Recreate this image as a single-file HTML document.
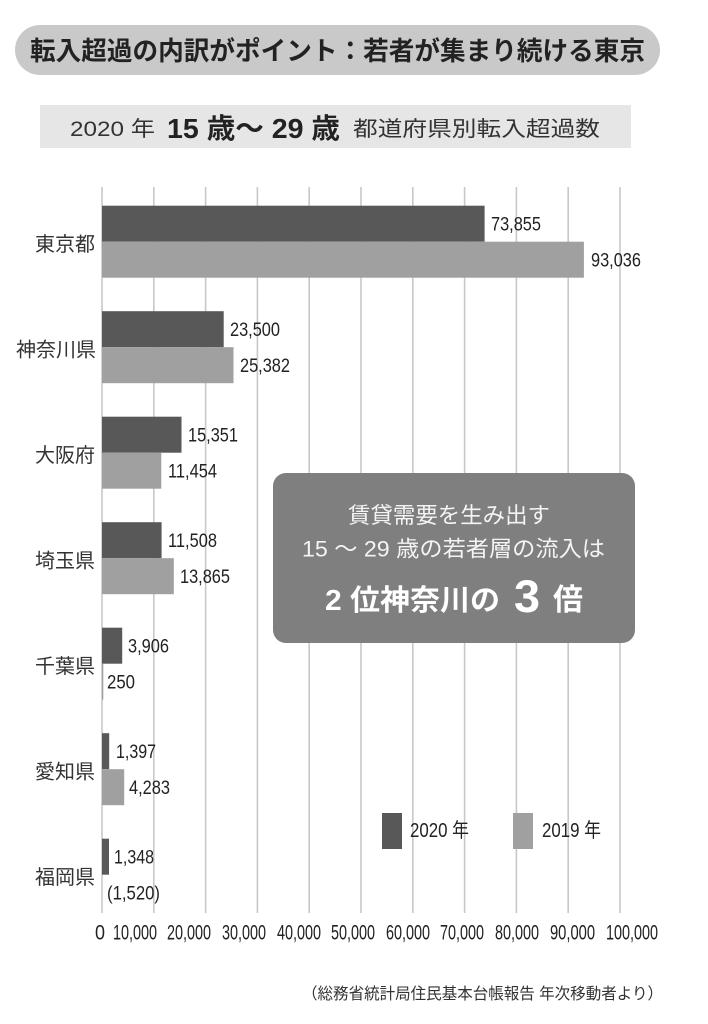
<!DOCTYPE html>
<html>
<head>
<meta charset="utf-8">
<style>
  html,body{margin:0;padding:0;background:#fff;}
  svg{display:block;}
  text{font-family:"Liberation Sans","Noto Sans CJK JP",sans-serif;}
</style>
</head>
<body>
<svg width="708" height="1024" viewBox="0 0 708 1024" xmlns="http://www.w3.org/2000/svg">
  <rect x="0" y="0" width="708" height="1024" fill="#ffffff"/>

  <!-- Title pill -->
  <rect x="15" y="25" width="645" height="50" rx="25" ry="25" fill="#c9c9c9"/>
  <text x="30" y="60" font-size="26" font-weight="bold" fill="#222" textLength="615" lengthAdjust="spacingAndGlyphs">転入超過の内訳がポイント：若者が集まり続ける東京</text>

  <!-- Subtitle box -->
  <rect x="40" y="105" width="591" height="43" fill="#e6e6e6"/>
  <text x="70" y="136" font-size="21" fill="#333" textLength="85" lengthAdjust="spacingAndGlyphs">2020 年</text>
  <text x="167" y="138" font-size="28" font-weight="bold" fill="#222" textLength="173" lengthAdjust="spacingAndGlyphs">15 歳〜 29 歳</text>
  <text x="353" y="136" font-size="21" fill="#333" textLength="247" lengthAdjust="spacingAndGlyphs">都道府県別転入超過数</text>

  <!-- Gridlines -->
  <g stroke="#c8c8c8" stroke-width="1.6">
    <line x1="102" y1="187" x2="102" y2="913"/>
    <line x1="153.8" y1="187" x2="153.8" y2="913"/>
    <line x1="205.6" y1="187" x2="205.6" y2="913"/>
    <line x1="257.4" y1="187" x2="257.4" y2="913"/>
    <line x1="309.2" y1="187" x2="309.2" y2="913"/>
    <line x1="361" y1="187" x2="361" y2="913"/>
    <line x1="412.8" y1="187" x2="412.8" y2="913"/>
    <line x1="464.6" y1="187" x2="464.6" y2="913"/>
    <line x1="516.4" y1="187" x2="516.4" y2="913"/>
    <line x1="568.2" y1="187" x2="568.2" y2="913"/>
    <line x1="620" y1="187" x2="620" y2="913"/>
  </g>

  <!-- Bars -->
  <g>
    <rect x="102" y="205.7" width="382.6" height="36" fill="#585858"/>
    <rect x="102" y="241.7" width="481.9" height="36" fill="#a0a0a0"/>
    <rect x="102" y="311.2" width="121.7" height="36" fill="#585858"/>
    <rect x="102" y="347.2" width="131.5" height="36" fill="#a0a0a0"/>
    <rect x="102" y="416.7" width="79.5" height="36" fill="#585858"/>
    <rect x="102" y="452.7" width="59.3" height="36" fill="#a0a0a0"/>
    <rect x="102" y="522.2" width="59.6" height="36" fill="#585858"/>
    <rect x="102" y="558.2" width="71.8" height="36" fill="#a0a0a0"/>
    <rect x="102" y="627.7" width="20.2" height="36" fill="#585858"/>
    <rect x="102" y="663.7" width="1.3" height="36" fill="#a0a0a0"/>
    <rect x="102" y="733.2" width="7.2" height="36" fill="#585858"/>
    <rect x="102" y="769.2" width="22.2" height="36" fill="#a0a0a0"/>
    <rect x="102" y="838.7" width="7.0" height="36" fill="#585858"/>
  </g>

  <!-- Category labels -->
  <g font-size="20" fill="#333" text-anchor="end">
    <text x="95" y="251">東京都</text>
    <text x="96" y="356.5">神奈川県</text>
    <text x="95" y="462">大阪府</text>
    <text x="95" y="567.5">埼玉県</text>
    <text x="95" y="673">千葉県</text>
    <text x="95" y="778.5">愛知県</text>
    <text x="95" y="884">福岡県</text>
  </g>

  <!-- Value labels -->
  <g font-size="19" fill="#222">
    <text x="491" y="230.7" textLength="50" lengthAdjust="spacingAndGlyphs">73,855</text>
    <text x="591" y="266.7" textLength="50" lengthAdjust="spacingAndGlyphs">93,036</text>
    <text x="230" y="336.2" textLength="50" lengthAdjust="spacingAndGlyphs">23,500</text>
    <text x="240" y="372.2" textLength="50" lengthAdjust="spacingAndGlyphs">25,382</text>
    <text x="188" y="441.7" textLength="50" lengthAdjust="spacingAndGlyphs">15,351</text>
    <text x="168" y="477.7" textLength="49" lengthAdjust="spacingAndGlyphs">11,454</text>
    <text x="168" y="547.2" textLength="49" lengthAdjust="spacingAndGlyphs">11,508</text>
    <text x="180" y="583.2" textLength="50" lengthAdjust="spacingAndGlyphs">13,865</text>
    <text x="128" y="652.7" textLength="41" lengthAdjust="spacingAndGlyphs">3,906</text>
    <text x="107" y="688.7" textLength="28" lengthAdjust="spacingAndGlyphs">250</text>
    <text x="116" y="758.2" textLength="40" lengthAdjust="spacingAndGlyphs">1,397</text>
    <text x="129" y="794.2" textLength="41" lengthAdjust="spacingAndGlyphs">4,283</text>
    <text x="114" y="863.7" textLength="40" lengthAdjust="spacingAndGlyphs">1,348</text>
    <text x="107" y="899.7" textLength="53" lengthAdjust="spacingAndGlyphs">(1,520)</text>
  </g>

  <!-- Axis labels -->
  <g font-size="21" fill="#222">
    <text x="95" y="939.5" textLength="10" lengthAdjust="spacingAndGlyphs">0</text>
    <text x="113" y="939.5" textLength="44" lengthAdjust="spacingAndGlyphs">10,000</text>
    <text x="167" y="939.5" textLength="44" lengthAdjust="spacingAndGlyphs">20,000</text>
    <text x="222" y="939.5" textLength="44" lengthAdjust="spacingAndGlyphs">30,000</text>
    <text x="277" y="939.5" textLength="44" lengthAdjust="spacingAndGlyphs">40,000</text>
    <text x="331" y="939.5" textLength="44" lengthAdjust="spacingAndGlyphs">50,000</text>
    <text x="386" y="939.5" textLength="44" lengthAdjust="spacingAndGlyphs">60,000</text>
    <text x="440" y="939.5" textLength="44" lengthAdjust="spacingAndGlyphs">70,000</text>
    <text x="495" y="939.5" textLength="44" lengthAdjust="spacingAndGlyphs">80,000</text>
    <text x="550" y="939.5" textLength="45" lengthAdjust="spacingAndGlyphs">90,000</text>
    <text x="606" y="939.5" textLength="52" lengthAdjust="spacingAndGlyphs">100,000</text>
  </g>

  <!-- Callout box -->
  <rect x="273" y="473" width="362" height="170" rx="13" ry="13" fill="#7f7f7f"/>
  <text x="348" y="523" font-size="22" fill="#f4f4f4" textLength="202" lengthAdjust="spacingAndGlyphs">賃貸需要を生み出す</text>
  <text x="302" y="556.5" font-size="22" fill="#f4f4f4" textLength="303" lengthAdjust="spacingAndGlyphs">15 〜 29 歳の若者層の流入は</text>
  <text x="325" y="610" font-size="29" font-weight="bold" fill="#ffffff" textLength="175" lengthAdjust="spacingAndGlyphs">2 位神奈川の</text>
  <text x="514" y="612" font-size="45" font-weight="bold" fill="#ffffff" textLength="26" lengthAdjust="spacingAndGlyphs">3</text>
  <text x="553" y="610" font-size="30" font-weight="bold" fill="#ffffff" textLength="30" lengthAdjust="spacingAndGlyphs">倍</text>

  <!-- Legend -->
  <rect x="382" y="813" width="20" height="36" fill="#585858"/>
  <text x="410" y="837" font-size="20" fill="#222" textLength="59" lengthAdjust="spacingAndGlyphs">2020 年</text>
  <rect x="513" y="813" width="20" height="36" fill="#a0a0a0"/>
  <text x="542" y="837" font-size="20" fill="#222" textLength="59" lengthAdjust="spacingAndGlyphs">2019 年</text>

  <!-- Source -->
  <text x="302" y="999" font-size="16" fill="#333" textLength="361" lengthAdjust="spacingAndGlyphs">（総務省統計局住民基本台帳報告 年次移動者より）</text>
</svg>
</body>
</html>
